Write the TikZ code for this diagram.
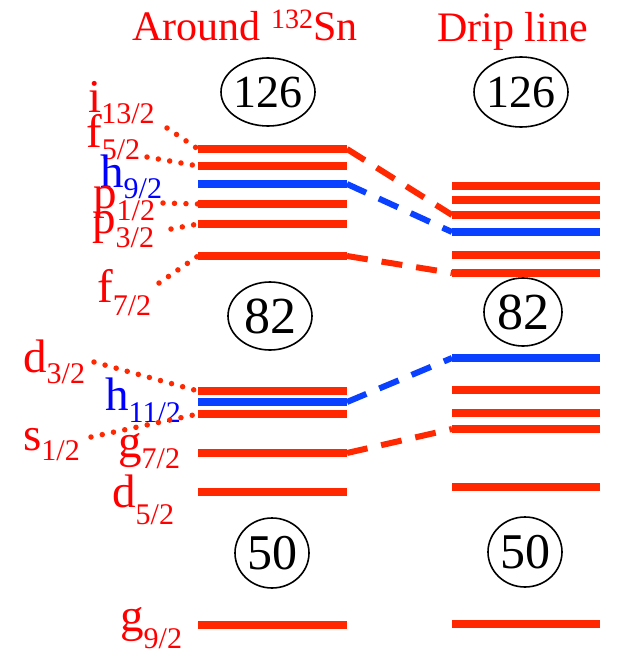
\documentclass[tikz,border=0pt]{standalone}
\usepackage{fontspec}
\setmainfont{Liberation Serif}
\definecolor{lvred}{RGB}{255,40,0}
\definecolor{lvblue}{RGB}{10,64,255}
\definecolor{txred}{RGB}{255,0,0}
\definecolor{txblue}{RGB}{0,0,255}
% orbital label: letter with a lowered j-value (optional drop in pt)
\newcommand\orb[3][12]{#2\raisebox{-#1pt}{\fontsize{30}{30}\selectfont #3}}

\begin{document}
\begin{tikzpicture}[x=1pt,y=-1pt,
  lvl/.style={line width=8pt,color=lvred},
  lvlb/.style={lvl,color=lvblue},
  magic/.style={inner sep=0pt,text=black},
  ring/.style={draw=black,line width=1.6pt},
  orbtxt/.style={anchor=base west,inner sep=0pt,text=txred,font=\fontsize{47}{47}\selectfont},
  orbblue/.style={orbtxt,text=txblue},
  title/.style={anchor=base west,inner sep=0pt,text=txred,font=\fontsize{42}{42}\selectfont},
  dots/.style={color=lvred,line width=5.5pt,line cap=round,dash pattern=on 0pt off 11.5pt},
  link/.style={color=lvred,line width=6pt,dash pattern=on 21pt off 14pt},
  linkb/.style={link,color=lvblue},
]
\useasboundingbox (0,0) rectangle (616,656);

% column headings
\node[title] (t1) at (132,40) {Around \raisebox{12pt}{\fontsize{28}{28}\selectfont 132}Sn};
\node[title] (t2) at (437,41) {Drip line};

% single-particle levels around 132Sn
\foreach \n/\y/\s in {1/149/lvl,2/166/lvl,3/184/lvlb,4/204/lvl,5/224/lvl,6/256/lvl,
                      7/391/lvl,8/402/lvlb,9/414/lvl,10/453/lvl,11/492/lvl,12/625/lvl}{
  \coordinate (L\n w) at (198,\y);
  \coordinate (L\n e) at (347,\y);
  \draw[\s] (L\n w) -- (L\n e);
}
% single-particle levels near the drip line
\foreach \n/\y/\s in {1/186/lvl,2/200/lvl,3/215/lvl,4/232/lvlb,5/255/lvl,6/273/lvl,
                      7/358/lvlb,8/390/lvl,9/413/lvl,10/429/lvl,11/487/lvl,12/624/lvl}{
  \coordinate (R\n w) at (452,\y);
  \coordinate (R\n e) at (600,\y);
  \draw[\s] (R\n w) -- (R\n e);
}

% magic numbers
\node[magic,font=\fontsize{46}{46}\selectfont] (m126a) at (268,92) {126};
\draw[ring] (m126a.center) ellipse [x radius=47pt, y radius=34pt];
\node[magic,font=\fontsize{46}{46}\selectfont] (m126b) at (521,92) {126};
\draw[ring] (m126b.center) ellipse [x radius=47pt, y radius=35pt];
\node[magic,font=\fontsize{52}{52}\selectfont] (m82a) at (270,316) {82};
\draw[ring] (m82a.center) ellipse [x radius=42pt, y radius=34pt];
\node[magic,font=\fontsize{52}{52}\selectfont] (m82b) at (523,312) {82};
\draw[ring] (m82b.center) ellipse [x radius=39pt, y radius=34pt];
\node[magic,font=\fontsize{50}{50}\selectfont] (m50a) at (272,553) {50};
\draw[ring] (m50a.center) ellipse [x radius=37pt, y radius=35pt];
\node[magic,font=\fontsize{50}{50}\selectfont] (m50b) at (525,552) {50};
\draw[ring] (m50b.center) ellipse [x radius=37pt, y radius=35pt];

% orbital labels
\node[orbtxt]  (i13) at (88,112)  {\orb[11]{i}{13/2}};
\node[orbtxt]  (f5)  at (86,147)  {\orb{f}{5/2}};
\node[orbblue] (h9)  at (100,187) {\orb[11]{h}{9/2}};
\node[orbtxt]  (p1)  at (93,208)  {\orb{p}{1/2}};
\node[orbtxt]  (p3)  at (92,233)  {\orb[14]{p}{3/2}};
\node[orbtxt]  (f7)  at (97,302)  {\orb[13]{f}{7/2}};
\node[orbtxt]  (d3)  at (23,372)  {\orb[11]{d}{3/2}};
\node[orbblue] (h11) at (105,410) {\orb{h}{11/2}};
\node[orbtxt]  (s1)  at (23,450)  {\orb[10]{s}{1/2}};
\node[orbtxt]  (g7)  at (118,457) {\orb[11]{g}{7/2}};
\node[orbtxt]  (d5)  at (112,507) {\orb[17]{d}{5/2}};
\node[orbtxt]  (g9)  at (120,631) {\orb[17]{g}{9/2}};

% dotted leaders from labels to levels
\coordinate (ci13) at (167,128);
\coordinate (cf5)  at (147,157);
\coordinate (cp1)  at (163,203);
\coordinate (cp3)  at (171,229);
\coordinate (cf7)  at (159,283);
\coordinate (cd3)  at (94,362);
\coordinate (cs1)  at (91,437);
\draw[dots] (ci13) -- (L1w);
\draw[dots] (cf5)  -- (L2w);
\draw[dots] (cp1)  -- (L4w);
\draw[dots] (cp3)  -- (L5w);
\draw[dots] (cf7)  -- (L6w);
\draw[dots] (cd3)  -- (L7w);
\draw[dots] (cs1)  -- (L9w);

% dashed links between the two columns
\draw[link]  (L1e)  -- (R3w);
\draw[linkb] (L3e)  -- (R4w);
\draw[link]  (L6e)  -- (R6w);
\draw[linkb] (L8e)  -- (R7w);
\draw[link]  (L10e) -- (R10w);
\end{tikzpicture}
\end{document}
